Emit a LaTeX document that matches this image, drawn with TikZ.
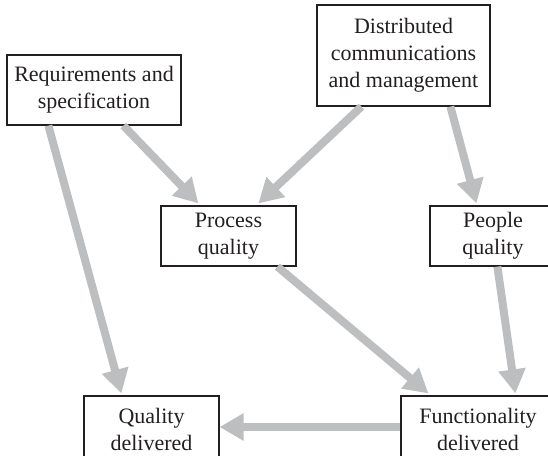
\documentclass[tikz,border=0pt]{standalone}
\usepackage{fontspec}
\setmainfont{Liberation Serif}
\usetikzlibrary{arrows.meta,calc}
\definecolor{arrowgray}{HTML}{BCBEC0}
\definecolor{inkc}{HTML}{231F20}
\begin{document}
\begin{tikzpicture}[x=1pt,y=1pt,
  box/.style={draw=inkc,line width=1.2pt,fill=white,text=inkc,align=center,inner sep=0pt,
    font=\fontsize{22}{27}\selectfont},
  conn/.style={draw=arrowgray,line width=8pt,-{Triangle[length=24pt,width=26pt]}}]
\useasboundingbox (0,0) rectangle (548,-455);
\clip (0,0) rectangle (548,-455);
\node[box,minimum width=174pt,minimum height=70pt] (req) at (94,-90) {Requirements and\\specification};
\node[box,minimum width=173pt,minimum height=101pt] (dist) at (403.5,-55.5) {Distributed\\communications\\and management};
\node[box,minimum width=135pt,minimum height=60pt] (proc) at (228.5,-236) {Process\\quality};
\node[box,minimum width=126pt,minimum height=60pt] (people) at (493,-236) {People\\quality};
\node[box,minimum width=135pt,minimum height=66pt] (qual) at (151.5,-429) {Quality\\delivered};
\node[box,minimum width=154pt,minimum height=66pt] (func) at (478,-429) {Functionality\\delivered};
\draw[conn] ($(req.south west)+(42,0)$) -- ($(qual.north west)+(38,2)$);
\draw[conn] ($(req.south west)+(117,0)$) -- ($(proc.north west)+(38,2)$);
\draw[conn] ($(dist.south west)+(45,0)$) -- ($(proc.north west)+(98,2)$);
\draw[conn] ($(dist.south west)+(134,0)$) -- ($(people.north west)+(47,2)$);
\draw[conn] ($(proc.south west)+(117,0)$) -- ($(func.north west)+(28,2)$);
\draw[conn] ($(people.south west)+(68,0)$) -- ($(func.north west)+(115,2)$);
\draw[conn] ($(func.west)+(0,2)$) -- ($(qual.east)+(0,2)$);
\end{tikzpicture}
\end{document}
